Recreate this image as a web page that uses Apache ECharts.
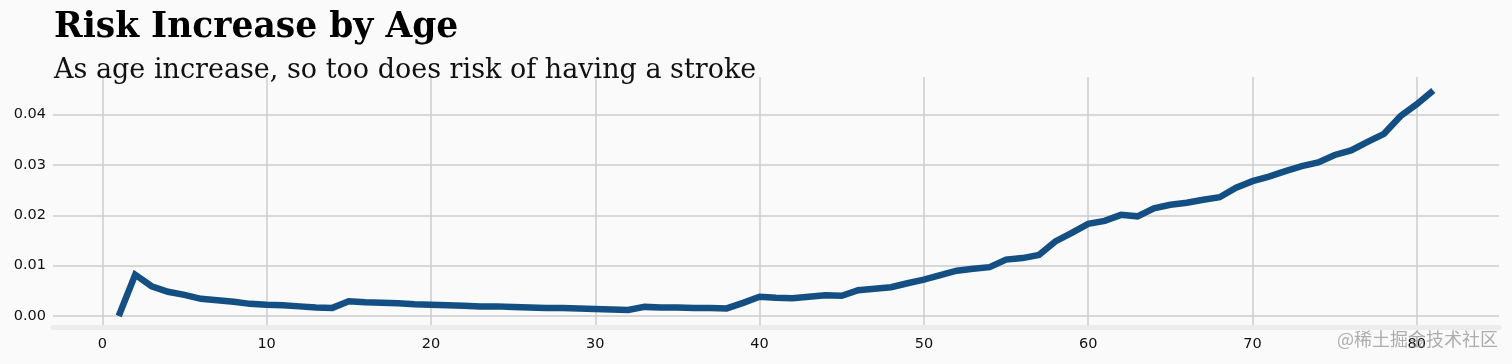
<!DOCTYPE html>
<html>
<head>
<meta charset="utf-8">
<script src="https://cdn.jsdelivr.net/npm/echarts@6/dist/echarts.min.js"></script>
<style>
html,body{margin:0;padding:0;background:#fafafa;}
#chart{width:1512px;height:364px;}
</style>
</head>
<body>
<div id="chart"></div>
<script>
const ages = [];
for (let a = 1; a <= 81; a++) ages.push(a);
const risk = [
  0.0000, 0.0082, 0.0059, 0.0048, 0.0042, 0.0034, 0.0031, 0.0028, 0.0024, 0.0022,
  0.0021, 0.0019, 0.0017, 0.0016, 0.0029, 0.0027, 0.0026, 0.0025, 0.0023, 0.0022,
  0.0021, 0.0020, 0.0019, 0.0019, 0.0018, 0.0017, 0.0016, 0.0016, 0.0015, 0.0014,
  0.0013, 0.0012, 0.0018, 0.0017, 0.0017, 0.0016, 0.0016, 0.0015, 0.0026, 0.0038,
  0.0036, 0.0035, 0.0038, 0.0041, 0.0040, 0.0051, 0.0054, 0.0057, 0.0065, 0.0072,
  0.0081, 0.0090, 0.0094, 0.0097, 0.0112, 0.0115, 0.0121, 0.0148, 0.0165, 0.0183,
  0.0189, 0.0201, 0.0198, 0.0214, 0.0221, 0.0225, 0.0231, 0.0236, 0.0255, 0.0268,
  0.0277, 0.0288, 0.0298, 0.0305, 0.0320, 0.0329, 0.0346, 0.0362, 0.0397, 0.0421,
  0.0448
];
const xTicks = [0, 10, 20, 30, 40, 50, 60, 70, 80];
const yTicks = [0, 0.01, 0.02, 0.03, 0.04];
const titleText = 'Risk Increase by Age';
const subtitleText = 'As age increase, so too does risk of having a stroke';
const watermark = '@稀土掘金技术社区';

const chart = echarts.init(document.getElementById('chart'), null, {renderer: 'canvas'});
chart.setOption({
  backgroundColor: '#fafafa',
  animation: false,
  grid: {left: 53, right: 13, top: 77, bottom: 37},
  xAxis: {
    type: 'value', min: -3, max: 85,
    axisLine: {show: true, onZero: false, lineStyle: {color: '#ececec', width: 5}},
    axisTick: {show: false, customValues: xTicks},
    axisLabel: {customValues: xTicks, color: '#111', fontSize: 14.5, fontFamily: 'DejaVu Sans', margin: 10},
    splitLine: {show: true, lineStyle: {color: '#cccccc', width: 1.5}}
  },
  yAxis: {
    type: 'value', min: -0.0022, max: 0.0475,
    axisLine: {show: false},
    axisTick: {show: false, customValues: yTicks},
    axisLabel: {customValues: yTicks, color: '#111', fontSize: 14.5, fontFamily: 'DejaVu Sans', margin: 7,
      formatter: v => v.toFixed(2)},
    splitLine: {show: true, lineStyle: {color: '#cccccc', width: 1.5}}
  },
  series: [{
    type: 'line',
    data: ages.map((a, i) => [a, risk[i]]),
    showSymbol: false,
    lineStyle: {color: '#134f82', width: 6.5, cap: 'butt', join: 'miter'},
    itemStyle: {color: '#134f82'}
  }],
  graphic: [
    {type: 'text', left: 54, top: 11, z: 10,
      style: {text: titleText, font: 'bold 34.5px "DejaVu Serif", serif', fill: '#000'}},
    {type: 'text', left: 54, top: 57, z: 10,
      style: {text: subtitleText, font: '27px "DejaVu Serif", serif', fill: '#111'}},
    {type: 'text', right: 14, top: 330, z: 10,
      style: {text: watermark, font: '18px "Noto Sans CJK SC", sans-serif', fill: 'rgba(140,140,140,0.7)'}}
  ]
});
</script>
</body>
</html>
